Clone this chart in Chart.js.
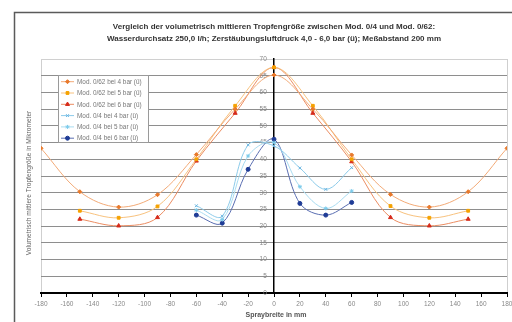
<!DOCTYPE html>
<html lang="de">
<head>
    <meta charset="UTF-8">
    <title>Tropfengröße Mod. 0/4 und Mod. 0/62</title>
    <style>
        body { margin: 0; background: #fff; }
        canvas { display: block; }
    </style>
</head>
<body>
    <canvas id="dropChart" width="512" height="322"></canvas>

    <script src="https://cdn.jsdelivr.net/npm/chart.js"></script>
    <script>
        // Spraybreite in mm
        const xWide = [-180, -150, -120, -90, -60, -30, 0, 30, 60, 90, 120, 150, 180];
        const xMid = [-150, -120, -90, -60, -30, 0, 30, 60, 90, 120, 150];
        const xNarrow = [-60, -40, -20, 0, 20, 40, 60];

        // Tropfengröße in Mikrometer
        const mod62bar4 = [43.3, 30.3, 25.7, 29.4, 41.4, 55.0, 65.2, 55.0, 41.3, 29.5, 25.7, 30.3, 43.3];
        const mod62bar5 = [24.6, 22.5, 25.9, 40.0, 56.0, 67.5, 56.0, 40.0, 26.0, 22.5, 24.6];
        const mod62bar6 = [22.1, 20.1, 22.6, 39.5, 53.8, 67.5, 53.8, 39.3, 22.6, 20.1, 22.1];
        const mod04bar4 = [26.1, 23.0, 44.3, 44.0, 37.4, 31.0, 37.5];
        const mod04bar5 = [24.8, 22.0, 41.0, 45.0, 31.8, 25.3, 30.5];
        const mod04bar6 = [23.3, 20.9, 37.0, 46.0, 26.8, 23.3, 27.1];

        const seriesNames = [
            'Mod. 0/62 bei 4 bar (ü)',
            'Mod. 0/62 bei 5 bar (ü)',
            'Mod. 0/62 bei 6 bar (ü)',
            'Mod. 0/4 bei 4 bar (ü)',
            'Mod. 0/4 bei 5 bar (ü)',
            'Mod. 0/4 bei 6 bar (ü)'
        ];
        const yTicks = [0, 5, 10, 15, 20, 25, 30, 35, 40, 45, 50, 55, 60, 65, 70];
        const xTicks = [-180, -160, -140, -120, -100, -80, -60, -40, -20, 0, 20, 40, 60, 80, 100, 120, 140, 160, 180];

        const chartTitle = [
            'Vergleich der volumetrisch mittleren Tropfengröße zwischen Mod. 0/4 und Mod. 0/62:',
            'Wasserdurchsatz 250,0 l/h; Zerstäubungsluftdruck 4,0 - 6,0 bar (ü); Meßabstand 200 mm'
        ];
        const xTitle = 'Spraybreite in mm';
        const yTitle = 'Volumetrisch mittlere Tropfengröße in Mikrometer';

        function points(xs, ys) {
            return xs.map((x, i) => ({ x: x, y: ys[i] }));
        }

        function series(name, xs, ys, line, marker, style, radius) {
            return {
                label: name,
                data: points(xs, ys),
                borderColor: line,
                borderWidth: 1,
                backgroundColor: marker,
                pointBackgroundColor: marker,
                pointBorderColor: marker,
                pointBorderWidth: 1,
                pointStyle: style,
                pointRadius: radius,
                tension: 0.35
            };
        }

        // Rahmen, Titel, Achsentitel und Legende
        const decorations = {
            id: 'decorations',
            beforeDraw(chart) {
                const ctx = chart.ctx;
                const a = chart.chartArea;
                ctx.save();
                ctx.fillStyle = '#fff';
                ctx.fillRect(0, 0, chart.width, chart.height);
                ctx.strokeStyle = '#5a5a5a';
                ctx.lineWidth = 1.5;
                ctx.strokeRect(14.5, 12.5, 540, 340);
                ctx.strokeStyle = '#cfcfcf';
                ctx.lineWidth = 1;
                ctx.strokeRect(a.left + 0.5, a.top + 0.5, a.right - a.left, a.bottom - a.top);
                ctx.restore();
            },
            afterDraw(chart) {
                const ctx = chart.ctx;
                ctx.save();
                ctx.fillStyle = '#333';
                ctx.textAlign = 'center';
                ctx.textBaseline = 'middle';
                ctx.font = 'bold 8px "Liberation Sans", Arial, sans-serif';
                ctx.fillText(chartTitle[0], 274, 27);
                ctx.fillText(chartTitle[1], 274, 39);

                ctx.fillStyle = '#555';
                ctx.font = 'bold 7px "Liberation Sans", Arial, sans-serif';
                ctx.fillText(xTitle, 276, 315);

                ctx.save();
                ctx.translate(29, 183);
                ctx.rotate(-Math.PI / 2);
                ctx.fillStyle = '#666';
                ctx.font = '6.6px "Liberation Sans", Arial, sans-serif';
                ctx.fillText(yTitle, 0, 0);
                ctx.restore();

                // Legende
                ctx.fillStyle = '#fff';
                ctx.fillRect(58, 75, 90, 67);
                ctx.strokeStyle = '#9a9a9a';
                ctx.lineWidth = 1;
                ctx.strokeRect(58.5, 75.5, 90, 67);
                ctx.textAlign = 'left';
                ctx.font = '6.4px "Liberation Sans", Arial, sans-serif';
                chart.data.datasets.forEach((ds, i) => {
                    const y = 81.7 + i * 11.3;
                    ctx.strokeStyle = ds.borderColor;
                    ctx.lineWidth = 1;
                    ctx.beginPath();
                    ctx.moveTo(61, y);
                    ctx.lineTo(74, y);
                    ctx.stroke();
                    ctx.fillStyle = ds.pointBackgroundColor;
                    ctx.strokeStyle = ds.pointBorderColor;
                    Chart.helpers.drawPoint(ctx, {
                        pointStyle: ds.pointStyle,
                        radius: ds.pointRadius,
                        rotation: 0,
                        borderWidth: 1
                    }, 67.5, y);
                    ctx.fillStyle = '#777';
                    ctx.fillText(ds.label, 77, y + 0.5);
                });
                ctx.restore();
            }
        };

        const ctx = document.getElementById('dropChart').getContext('2d');
        new Chart(ctx, {
            type: 'line',
            data: {
                datasets: [
                    series(seriesNames[0], xWide, mod62bar4, '#f3ab78', '#e8782a', 'rectRot', 2),
                    series(seriesNames[1], xMid, mod62bar5, '#f8c27e', '#f5a200', 'rect', 2),
                    series(seriesNames[2], xMid, mod62bar6, '#ec8d62', '#d62a1a', 'triangle', 2.3),
                    series(seriesNames[3], xNarrow, mod04bar4, '#8ccbea', '#6ab6e2', 'crossRot', 2),
                    series(seriesNames[4], xNarrow, mod04bar5, '#a9dcf1', '#7ccbeb', 'star', 2),
                    series(seriesNames[5], xNarrow, mod04bar6, '#5a6eb2', '#1f3c96', 'circle', 2)
                ]
            },
            options: {
                responsive: false,
                animation: false,
                devicePixelRatio: 1,
                layout: { padding: { left: 41, right: 3, top: 59, bottom: 29 } },
                plugins: {
                    legend: { display: false },
                    title: { display: false },
                    tooltip: { enabled: false }
                },
                scales: {
                    x: {
                        type: 'linear',
                        position: { y: 0 },
                        min: -180,
                        max: 180,
                        afterBuildTicks: (scale) => {
                            scale.ticks = xTicks.map(v => ({ value: v }));
                        },
                        afterFit: (scale) => {
                            scale.paddingLeft = 0;
                            scale.paddingRight = 0;
                        },
                        grid: {
                            drawOnChartArea: false,
                            drawTicks: true,
                            tickLength: 3,
                            color: '#000'
                        },
                        border: { color: '#000', width: 2 },
                        ticks: {
                            color: '#888',
                            padding: 4,
                            maxRotation: 0,
                            font: { size: 6.5, family: '"Liberation Sans", Arial, sans-serif' }
                        }
                    },
                    y: {
                        type: 'linear',
                        position: { x: 0 },
                        min: 0,
                        max: 70,
                        afterBuildTicks: (scale) => {
                            scale.ticks = yTicks.map(v => ({ value: v }));
                        },
                        grid: {
                            color: (c) => (c.tick && c.tick.value === 70) ? '#d0d0d0' : '#8e8e8e',
                            lineWidth: 1,
                            tickLength: 3
                        },
                        border: { color: '#000', width: 1.5 },
                        ticks: {
                            color: '#888',
                            padding: 2,
                            // Beschriftung links neben der Mittelachse
                            callback: (v) => v + '    ',
                            font: { size: 6.5, family: '"Liberation Sans", Arial, sans-serif' }
                        }
                    }
                }
            },
            plugins: [decorations]
        });
    </script>
</body>
</html>
